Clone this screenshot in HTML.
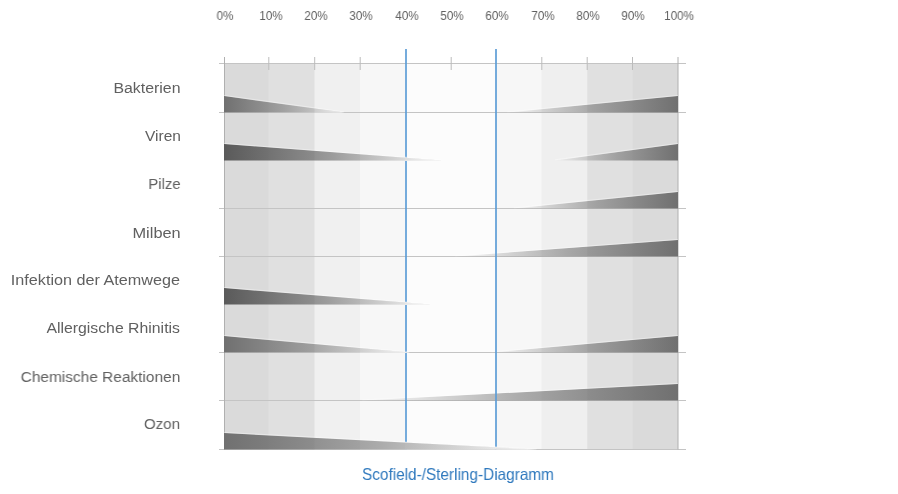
<!DOCTYPE html><html><head><meta charset="utf-8"><style>
html,body{margin:0;padding:0;background:#fff;width:898px;height:494px;overflow:hidden;}
body{position:relative;font-family:"Liberation Sans",sans-serif;}
.lab{position:absolute;right:717.5px;white-space:nowrap;color:#606060;will-change:transform;font-size:15.5px;line-height:16px;transform-origin:100% 50%;}
.ax{position:absolute;white-space:nowrap;color:#606060;will-change:transform;font-size:12px;line-height:12px;transform:translateX(-50%) scaleX(0.97);}
.ttl{position:absolute;white-space:nowrap;color:#2e78bd;will-change:transform;font-size:16.5px;line-height:16px;transform-origin:0 50%;}
svg{position:absolute;left:0;top:0;}
</style></head><body>
<svg width="898" height="494" viewBox="0 0 898 494"><defs><linearGradient id="g0" x1="0" x2="1" y1="0" y2="0"><stop offset="0" stop-color="#707070"/><stop offset="0.5" stop-color="#707070" stop-opacity="0.56"/><stop offset="1" stop-color="#707070" stop-opacity="0"/></linearGradient><clipPath id="c0"><path d="M224,96.10 L344.18,112.50 L224,112.50 Z"/></clipPath><linearGradient id="g1" x1="1" x2="0" y1="0" y2="0"><stop offset="0" stop-color="#707070"/><stop offset="0.5" stop-color="#707070" stop-opacity="0.56"/><stop offset="1" stop-color="#707070" stop-opacity="0"/></linearGradient><linearGradient id="g2" x1="0" x2="1" y1="0" y2="0"><stop offset="0" stop-color="#5a5a5a"/><stop offset="0.5" stop-color="#5a5a5a" stop-opacity="0.56"/><stop offset="1" stop-color="#5a5a5a" stop-opacity="0"/></linearGradient><clipPath id="c2"><path d="M224,144.10 L441.68,160.50 L224,160.50 Z"/></clipPath><linearGradient id="g3" x1="1" x2="0" y1="0" y2="0"><stop offset="0" stop-color="#707070"/><stop offset="0.5" stop-color="#707070" stop-opacity="0.56"/><stop offset="1" stop-color="#707070" stop-opacity="0"/></linearGradient><linearGradient id="g4" x1="1" x2="0" y1="0" y2="0"><stop offset="0" stop-color="#707070"/><stop offset="0.5" stop-color="#707070" stop-opacity="0.56"/><stop offset="1" stop-color="#707070" stop-opacity="0"/></linearGradient><linearGradient id="g5" x1="1" x2="0" y1="0" y2="0"><stop offset="0" stop-color="#707070"/><stop offset="0.5" stop-color="#707070" stop-opacity="0.56"/><stop offset="1" stop-color="#707070" stop-opacity="0"/></linearGradient><linearGradient id="g6" x1="0" x2="1" y1="0" y2="0"><stop offset="0" stop-color="#5a5a5a"/><stop offset="0.5" stop-color="#5a5a5a" stop-opacity="0.56"/><stop offset="1" stop-color="#5a5a5a" stop-opacity="0"/></linearGradient><clipPath id="c6"><path d="M224,288.10 L430.34,304.50 L224,304.50 Z"/></clipPath><linearGradient id="g7" x1="0" x2="1" y1="0" y2="0"><stop offset="0" stop-color="#707070"/><stop offset="0.5" stop-color="#707070" stop-opacity="0.56"/><stop offset="1" stop-color="#707070" stop-opacity="0"/></linearGradient><clipPath id="c7"><path d="M224,336.10 L409.94,352.50 L224,352.50 Z"/></clipPath><linearGradient id="g8" x1="1" x2="0" y1="0" y2="0"><stop offset="0" stop-color="#707070"/><stop offset="0.5" stop-color="#707070" stop-opacity="0.56"/><stop offset="1" stop-color="#707070" stop-opacity="0"/></linearGradient><linearGradient id="g9" x1="1" x2="0" y1="0" y2="0"><stop offset="0" stop-color="#707070"/><stop offset="0.5" stop-color="#707070" stop-opacity="0.56"/><stop offset="1" stop-color="#707070" stop-opacity="0"/></linearGradient><linearGradient id="g10" x1="0" x2="1" y1="0" y2="0"><stop offset="0" stop-color="#707070"/><stop offset="0.5" stop-color="#707070" stop-opacity="0.56"/><stop offset="1" stop-color="#707070" stop-opacity="0"/></linearGradient><clipPath id="c10"><path d="M224,433.10 L536.91,449.50 L224,449.50 Z"/></clipPath></defs><rect x="225.00" y="63.50" width="453.00" height="386.00" fill="#dadada"/><rect x="268.50" y="63.50" width="409.50" height="386.00" fill="#e0e0e0"/><rect x="314.50" y="63.50" width="363.50" height="386.00" fill="#f0f0f0"/><rect x="360.00" y="63.50" width="318.00" height="386.00" fill="#f7f7f7"/><rect x="405.00" y="63.50" width="273.00" height="386.00" fill="#fcfcfc"/><rect x="496.00" y="63.50" width="182.00" height="386.00" fill="#f7f7f7"/><rect x="541.50" y="63.50" width="136.50" height="386.00" fill="#efefef"/><rect x="587.30" y="63.50" width="90.70" height="386.00" fill="#e0e0e0"/><rect x="632.70" y="63.50" width="45.30" height="386.00" fill="#dadada"/><line x1="219" x2="686" y1="63.50" y2="63.50" stroke="#c4c4c4" stroke-width="1"/><line x1="219" x2="686" y1="112.50" y2="112.50" stroke="#c4c4c4" stroke-width="1"/><line x1="219" x2="686" y1="208.50" y2="208.50" stroke="#c4c4c4" stroke-width="1"/><line x1="219" x2="686" y1="256.50" y2="256.50" stroke="#c4c4c4" stroke-width="1"/><line x1="219" x2="686" y1="352.50" y2="352.50" stroke="#c4c4c4" stroke-width="1"/><line x1="219" x2="686" y1="400.50" y2="400.50" stroke="#c4c4c4" stroke-width="1"/><line x1="219" x2="686" y1="449.50" y2="449.50" stroke="#c4c4c4" stroke-width="1"/><line x1="224.5" x2="224.5" y1="57" y2="449.50" stroke="#b0b0b0" stroke-width="1"/><line x1="678" x2="678" y1="57" y2="449.50" stroke="#b0b0b0" stroke-width="1"/><line x1="268.80" x2="268.80" y1="57" y2="70" stroke="#bcbcbc" stroke-width="1"/><line x1="314.70" x2="314.70" y1="57" y2="70" stroke="#bcbcbc" stroke-width="1"/><line x1="360.20" x2="360.20" y1="57" y2="70" stroke="#bcbcbc" stroke-width="1"/><line x1="451.20" x2="451.20" y1="57" y2="70" stroke="#bcbcbc" stroke-width="1"/><line x1="541.80" x2="541.80" y1="57" y2="70" stroke="#bcbcbc" stroke-width="1"/><line x1="587.20" x2="587.20" y1="57" y2="70" stroke="#bcbcbc" stroke-width="1"/><line x1="632.50" x2="632.50" y1="57" y2="70" stroke="#bcbcbc" stroke-width="1"/><path d="M678,96.10 L507.44,112.50 L678,112.50 Z" fill="url(#g1)"/><line x1="678" y1="95.40" x2="507.44" y2="111.80" stroke="#fff" stroke-opacity="0.35" stroke-width="1"/><path d="M678,144.10 L555.06,160.50 L678,160.50 Z" fill="url(#g3)"/><line x1="678" y1="143.40" x2="555.06" y2="159.80" stroke="#fff" stroke-opacity="0.35" stroke-width="1"/><path d="M678,192.10 L514.24,208.50 L678,208.50 Z" fill="url(#g4)"/><line x1="678" y1="191.40" x2="514.24" y2="207.80" stroke="#fff" stroke-opacity="0.35" stroke-width="1"/><path d="M678,240.10 L455.28,256.50 L678,256.50 Z" fill="url(#g5)"/><line x1="678" y1="239.40" x2="455.28" y2="255.80" stroke="#fff" stroke-opacity="0.35" stroke-width="1"/><path d="M678,336.10 L491.56,352.50 L678,352.50 Z" fill="url(#g8)"/><line x1="678" y1="335.40" x2="491.56" y2="351.80" stroke="#fff" stroke-opacity="0.35" stroke-width="1"/><path d="M678,384.10 L362.32,400.50 L678,400.50 Z" fill="url(#g9)"/><line x1="678" y1="383.40" x2="362.32" y2="399.80" stroke="#fff" stroke-opacity="0.35" stroke-width="1"/><line x1="406.00" x2="406.00" y1="49" y2="449.50" stroke="#5d9dd6" stroke-width="1.7"/><line x1="496.00" x2="496.00" y1="49" y2="449.50" stroke="#5d9dd6" stroke-width="1.7"/><g clip-path="url(#c0)"><rect x="225.00" y="63.50" width="453.00" height="386.00" fill="#dadada"/><rect x="268.50" y="63.50" width="409.50" height="386.00" fill="#e0e0e0"/><rect x="314.50" y="63.50" width="363.50" height="386.00" fill="#f0f0f0"/><rect x="360.00" y="63.50" width="318.00" height="386.00" fill="#f7f7f7"/><rect x="405.00" y="63.50" width="273.00" height="386.00" fill="#fcfcfc"/><rect x="496.00" y="63.50" width="182.00" height="386.00" fill="#f7f7f7"/><rect x="541.50" y="63.50" width="136.50" height="386.00" fill="#efefef"/><rect x="587.30" y="63.50" width="90.70" height="386.00" fill="#e0e0e0"/><rect x="632.70" y="63.50" width="45.30" height="386.00" fill="#dadada"/></g><path d="M224,96.10 L344.18,112.50 L224,112.50 Z" fill="url(#g0)"/><line x1="224" y1="95.40" x2="344.18" y2="111.80" stroke="#fff" stroke-opacity="0.35" stroke-width="1"/><g clip-path="url(#c2)"><rect x="225.00" y="63.50" width="453.00" height="386.00" fill="#dadada"/><rect x="268.50" y="63.50" width="409.50" height="386.00" fill="#e0e0e0"/><rect x="314.50" y="63.50" width="363.50" height="386.00" fill="#f0f0f0"/><rect x="360.00" y="63.50" width="318.00" height="386.00" fill="#f7f7f7"/><rect x="405.00" y="63.50" width="273.00" height="386.00" fill="#fcfcfc"/><rect x="496.00" y="63.50" width="182.00" height="386.00" fill="#f7f7f7"/><rect x="541.50" y="63.50" width="136.50" height="386.00" fill="#efefef"/><rect x="587.30" y="63.50" width="90.70" height="386.00" fill="#e0e0e0"/><rect x="632.70" y="63.50" width="45.30" height="386.00" fill="#dadada"/></g><path d="M224,144.10 L441.68,160.50 L224,160.50 Z" fill="url(#g2)"/><line x1="224" y1="143.40" x2="441.68" y2="159.80" stroke="#fff" stroke-opacity="0.35" stroke-width="1"/><g clip-path="url(#c6)"><rect x="225.00" y="63.50" width="453.00" height="386.00" fill="#dadada"/><rect x="268.50" y="63.50" width="409.50" height="386.00" fill="#e0e0e0"/><rect x="314.50" y="63.50" width="363.50" height="386.00" fill="#f0f0f0"/><rect x="360.00" y="63.50" width="318.00" height="386.00" fill="#f7f7f7"/><rect x="405.00" y="63.50" width="273.00" height="386.00" fill="#fcfcfc"/><rect x="496.00" y="63.50" width="182.00" height="386.00" fill="#f7f7f7"/><rect x="541.50" y="63.50" width="136.50" height="386.00" fill="#efefef"/><rect x="587.30" y="63.50" width="90.70" height="386.00" fill="#e0e0e0"/><rect x="632.70" y="63.50" width="45.30" height="386.00" fill="#dadada"/></g><path d="M224,288.10 L430.34,304.50 L224,304.50 Z" fill="url(#g6)"/><line x1="224" y1="287.40" x2="430.34" y2="303.80" stroke="#fff" stroke-opacity="0.35" stroke-width="1"/><g clip-path="url(#c7)"><rect x="225.00" y="63.50" width="453.00" height="386.00" fill="#dadada"/><rect x="268.50" y="63.50" width="409.50" height="386.00" fill="#e0e0e0"/><rect x="314.50" y="63.50" width="363.50" height="386.00" fill="#f0f0f0"/><rect x="360.00" y="63.50" width="318.00" height="386.00" fill="#f7f7f7"/><rect x="405.00" y="63.50" width="273.00" height="386.00" fill="#fcfcfc"/><rect x="496.00" y="63.50" width="182.00" height="386.00" fill="#f7f7f7"/><rect x="541.50" y="63.50" width="136.50" height="386.00" fill="#efefef"/><rect x="587.30" y="63.50" width="90.70" height="386.00" fill="#e0e0e0"/><rect x="632.70" y="63.50" width="45.30" height="386.00" fill="#dadada"/></g><path d="M224,336.10 L409.94,352.50 L224,352.50 Z" fill="url(#g7)"/><line x1="224" y1="335.40" x2="409.94" y2="351.80" stroke="#fff" stroke-opacity="0.35" stroke-width="1"/><g clip-path="url(#c10)"><rect x="225.00" y="63.50" width="453.00" height="386.00" fill="#dadada"/><rect x="268.50" y="63.50" width="409.50" height="386.00" fill="#e0e0e0"/><rect x="314.50" y="63.50" width="363.50" height="386.00" fill="#f0f0f0"/><rect x="360.00" y="63.50" width="318.00" height="386.00" fill="#f7f7f7"/><rect x="405.00" y="63.50" width="273.00" height="386.00" fill="#fcfcfc"/><rect x="496.00" y="63.50" width="182.00" height="386.00" fill="#f7f7f7"/><rect x="541.50" y="63.50" width="136.50" height="386.00" fill="#efefef"/><rect x="587.30" y="63.50" width="90.70" height="386.00" fill="#e0e0e0"/><rect x="632.70" y="63.50" width="45.30" height="386.00" fill="#dadada"/></g><path d="M224,433.10 L536.91,449.50 L224,449.50 Z" fill="url(#g10)"/><line x1="224" y1="432.40" x2="536.91" y2="448.80" stroke="#fff" stroke-opacity="0.35" stroke-width="1"/></svg>
<div class="lab" style="top:79.6px;right:717.5px;transform:scaleX(1.024)">Bakterien</div>
<div class="lab" style="top:128.1px;right:717.5px;transform:scaleX(1.0)">Viren</div>
<div class="lab" style="top:176.3px;right:717.5px;transform:scaleX(0.96)">Pilze</div>
<div class="lab" style="top:224.8px;right:717.5px;transform:scaleX(1.055)">Milben</div>
<div class="lab" style="top:271.9px;right:718.3px;transform:scaleX(1.044)">Infektion der Atemwege</div>
<div class="lab" style="top:320.3px;right:718.3px;transform:scaleX(1.02)">Allergische Rhinitis</div>
<div class="lab" style="top:368.5px;right:717.5px;transform:scaleX(0.996)">Chemische Reaktionen</div>
<div class="lab" style="top:415.9px;right:717.5px;transform:scaleX(0.975)">Ozon</div>
<div class="ax" style="left:225.1px;top:10.3px">0%</div>
<div class="ax" style="left:270.5px;top:10.3px">10%</div>
<div class="ax" style="left:315.8px;top:10.3px">20%</div>
<div class="ax" style="left:361.2px;top:10.3px">30%</div>
<div class="ax" style="left:406.5px;top:10.3px">40%</div>
<div class="ax" style="left:451.9px;top:10.3px">50%</div>
<div class="ax" style="left:497.2px;top:10.3px">60%</div>
<div class="ax" style="left:542.6px;top:10.3px">70%</div>
<div class="ax" style="left:587.9px;top:10.3px">80%</div>
<div class="ax" style="left:633.2px;top:10.3px">90%</div>
<div class="ax" style="left:678.6px;top:10.3px">100%</div>
<div class="ttl" style="left:362px;top:466px;transform:scaleX(0.93)">Scofield-/Sterling-Diagramm</div>
</body></html>
